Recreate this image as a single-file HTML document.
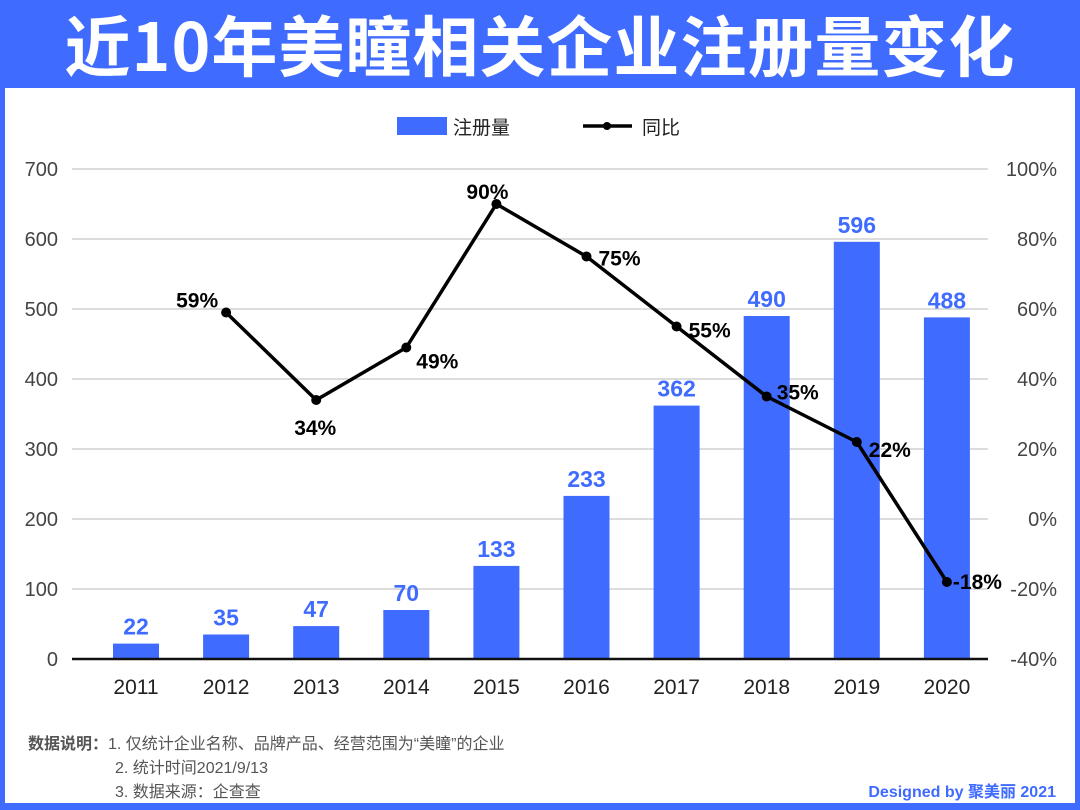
<!DOCTYPE html>
<html><head><meta charset="utf-8">
<style>
html,body{margin:0;padding:0;}
body{width:1080px;height:810px;background:#3f6bff;position:relative;overflow:hidden;font-family:"Liberation Sans","Noto Sans CJK SC",sans-serif;}
#title{position:absolute;left:0;top:0;width:1080px;height:88px;line-height:86px;text-align:center;color:#fff;font-size:66px;font-weight:bold;font-family:"Noto Sans CJK SC","Liberation Sans",sans-serif;letter-spacing:1px;}
#panel{position:absolute;left:5px;top:88px;width:1070px;height:715px;background:#fff;}
svg{position:absolute;left:0;top:0;}
</style></head><body>
<div id="title">近10年美瞳相关企业注册量变化</div>
<div id="panel"></div>
<svg id="chart" width="1080" height="810" font-family="Liberation Sans, Noto Sans CJK SC, sans-serif"></svg>
<script>
const categories=["2011","2012","2013","2014","2015","2016","2017","2018","2019","2020"];
const counts=[22,35,47,70,133,233,362,490,596,488];
const yoy=[null,59,34,49,90,75,55,35,22,-18];
const leftTicks=[0,100,200,300,400,500,600,700];
const rightTicks=[-40,-20,0,20,40,60,80,100];
const NS="http://www.w3.org/2000/svg";
const svg=document.getElementById('chart');
const x=i=>136+90.1*i;
const yL=v=>659-v*0.7;
const yR=v=>519-v*3.5;
function el(t,a,txt){const e=document.createElementNS(NS,t);for(const k in a)e.setAttribute(k,a[k]);if(txt!=null)e.textContent=txt;svg.appendChild(e);return e;}
leftTicks.forEach(v=>{
 if(v>0){const g=el('line',{x1:72,x2:988,y1:yL(v),y2:yL(v),stroke:'#c8c8c8','stroke-width':1.2});
 
 }
 const t=el('text',{x:58,y:yL(v)+7,'text-anchor':'end','font-size':20,fill:'#444'},v);
 
 
});
rightTicks.forEach(v=>{
 const t=el('text',{x:1057,y:yR(v)+7,'text-anchor':'end','font-size':20,fill:'#444'},v+'%');
 
 
});
counts.forEach((v,i)=>{
 const b=el('rect',{x:x(i)-23,y:yL(v),width:46,height:yL(0)-yL(v),fill:'#3f6bff'});
 
 
 const t=el('text',{x:x(i),y:yL(v)-9,'text-anchor':'middle','font-size':23,'font-weight':'bold',fill:'#3f6bff'},v);
 
 
 const c=el('text',{x:x(i),y:694,'text-anchor':'middle','font-size':21,fill:'#222'},categories[i]);
 
 
});
const ax=el('line',{x1:72,x2:988,y1:659,y2:659,stroke:'#111','stroke-width':2.5});


let d='';
yoy.forEach((v,i)=>{if(v==null)return;d+=(d?'L':'M')+x(i)+','+yR(v);});
const p=el('path',{d:d,fill:'none',stroke:'#000','stroke-width':3.5,'stroke-linejoin':'round'});


const off={1:[-50,-12],2:[-22,28],3:[10,14],4:[-30,-12],5:[12,2],6:[12,4],7:[10,-4],8:[12,8],9:[6,0]};
yoy.forEach((v,i)=>{if(v==null)return;
 const c=el('circle',{cx:x(i),cy:yR(v),r:5,fill:'#000'});
 
 
 const o=off[i];
 const t=el('text',{x:x(i)+o[0],y:yR(v)+o[1]+7,'font-size':21,'font-weight':'bold',fill:'#000'},v+'%');
 
 
});
const lr=el('rect',{x:397,y:117,width:50,height:18,fill:'#3f6bff'});


const lt=el('text',{x:453,y:134,'font-size':19,fill:'#222'},'注册量');


const ll=el('line',{x1:583,x2:632,y1:126,y2:126,stroke:'#000','stroke-width':3.5});


const lc=el('circle',{cx:607,cy:126,r:4,fill:'#000'});


const lt2=el('text',{x:642,y:134,'font-size':19,fill:'#222'},'同比');


const n1=el('text',{x:28,y:749,'font-size':16,fill:'#555'},'');


const s1=document.createElementNS(NS,'tspan');s1.setAttribute('font-weight','bold');s1.textContent='数据说明：';n1.appendChild(s1);
const s2=document.createElementNS(NS,'tspan');s2.textContent='1. 仅统计企业名称、品牌产品、经营范围为“美瞳”的企业';n1.appendChild(s2);
const n2=el('text',{x:115,y:773,'font-size':16,fill:'#555'},'2. 统计时间2021/9/13');


const n3=el('text',{x:115,y:797,'font-size':16,fill:'#555'},'3. 数据来源：企查查');


const cr=el('text',{x:1056,y:797,'text-anchor':'end','font-size':16,'font-weight':'bold',fill:'#3f6bff'},'Designed by 聚美丽 2021');


</script>
</body></html>
